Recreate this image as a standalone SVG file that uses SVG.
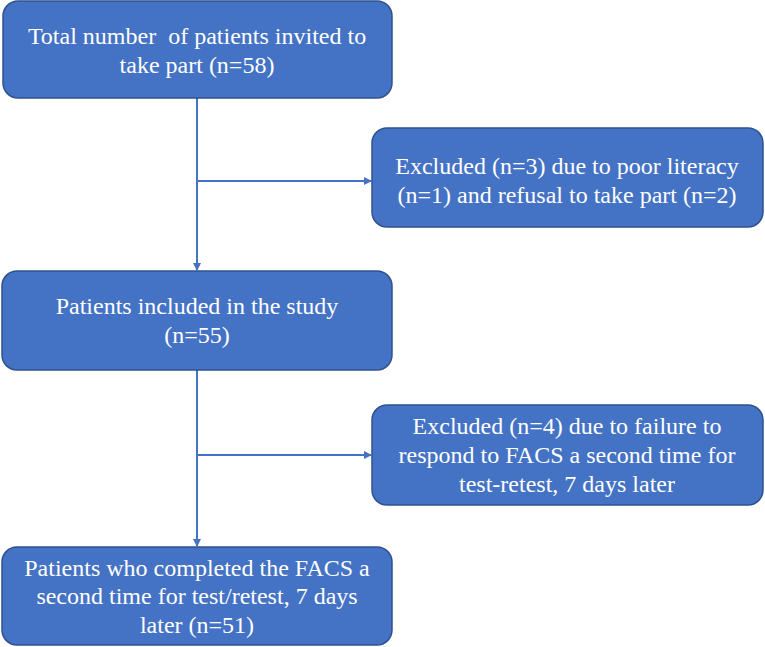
<svg xmlns="http://www.w3.org/2000/svg" width="765" height="647" viewBox="0 0 765 647">
<style>
.box{fill:#4472C4;stroke:#2F528F;stroke-width:1.5}
.t{font-size:24px;fill:#fff;text-anchor:middle}
.c{stroke:#4472C4;stroke-width:2;fill:none}
</style>
<defs>
<marker id="ah" markerWidth="8" markerHeight="8" refX="7" refY="4" orient="auto" markerUnits="userSpaceOnUse">
<path d="M0,0 L8,4 L0,8 z" fill="#4472C4"/>
</marker>
</defs>
<rect width="765" height="647" fill="#fff"/>
<g id="connectors">
<line class="c" x1="197" y1="98" x2="197" y2="270" marker-end="url(#ah)"/>
<line class="c" x1="197" y1="181" x2="371" y2="181" marker-end="url(#ah)"/>
<line class="c" x1="197" y1="370" x2="197" y2="546" marker-end="url(#ah)"/>
<line class="c" x1="197" y1="455" x2="371" y2="455" marker-end="url(#ah)"/>
</g>
<g font-family="Liberation Serif">
<g id="n1">
<rect class="box" x="3" y="1" width="389" height="97" rx="15"/>
<text class="t" x="197" y="44" xml:space="preserve">Total number  of patients invited to</text>
<text class="t" x="197" y="73">take part (n=58)</text>
</g>
<g id="n2">
<rect class="box" x="372" y="128" width="391" height="99" rx="15"/>
<text class="t" x="567" y="174">Excluded (n=3) due to poor literacy</text>
<text class="t" x="567" y="203">(n=1) and refusal to take part (n=2)</text>
</g>
<g id="n3">
<rect class="box" x="2" y="271" width="390" height="99" rx="15"/>
<text class="t" x="197" y="314">Patients included in the study</text>
<text class="t" x="197" y="343">(n=55)</text>
</g>
<g id="n4">
<rect class="box" x="372" y="405" width="391" height="100" rx="15"/>
<text class="t" x="567" y="434">Excluded (n=4) due to failure to</text>
<text class="t" x="567" y="463">respond to FACS a second time for</text>
<text class="t" x="567" y="492">test-retest, 7 days later</text>
</g>
<g id="n5">
<rect class="box" x="2" y="547" width="390" height="98" rx="15"/>
<text class="t" x="197" y="576">Patients who completed the FACS a</text>
<text class="t" x="197" y="604">second time for test/retest, 7 days</text>
<text class="t" x="197" y="633">later (n=51)</text>
</g>
</g>
</svg>
